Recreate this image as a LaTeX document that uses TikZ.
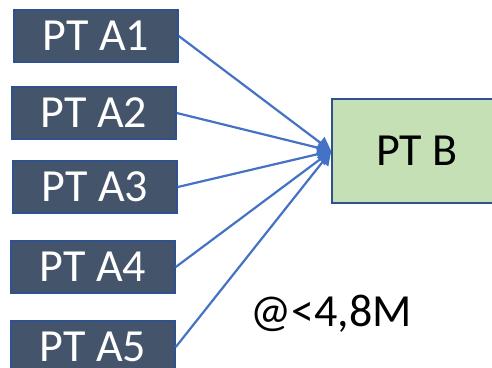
\documentclass[tikz,border=0pt]{standalone}
\usepackage{fontspec}
\setmainfont{Carlito}
\usetikzlibrary{arrows.meta}
\definecolor{slate}{HTML}{44546A}
\definecolor{edgeblue}{HTML}{2F528F}
\definecolor{lineblue}{HTML}{4472C4}
\definecolor{lightgreen}{HTML}{C5E0B4}
\tikzstyle{source} = [rectangle, draw=edgeblue, line width=1.5pt, fill=slate, text=white, minimum width=164pt, minimum height=52pt, inner sep=0pt, font=\fontsize{46}{50}\selectfont]
\tikzstyle{target} = [rectangle, draw=edgeblue, line width=1.5pt, fill=lightgreen, minimum width=170pt, minimum height=104pt, inner sep=0pt, font=\fontsize{46}{50}\selectfont]
\tikzstyle{arrow} = [draw=lineblue, line width=2.2pt, -{Triangle[length=14pt,width=14pt]}]

\begin{document}
\begin{tikzpicture}[x=1pt, y=-1pt]
      \useasboundingbox (0,0) rectangle (492,367);
      \clip (0,0) rectangle (492,367);
      \node [source] at (96,  36) (a1) {PT A1};
      \node [source] at (94, 113) (a2) {PT A2};
      \node [source] at (95, 187) (a3) {PT A3};
      \node [source] at (93, 267) (a4) {PT A4};
      \node [source] at (93, 347) (a5) {PT A5};
      \node [target] at (417, 151) (b) {PT B};
      \coordinate (tip) at (b.west);
      \node [font=\fontsize{46}{50}\selectfont] at (331, 314) (cap) {@<4,8M};
      \path [arrow] (a1.east) -- (tip);
      \path [arrow] (a2.east) -- (tip);
      \path [arrow] (a3.east) -- (tip);
      \path [arrow] (a4.east) -- (tip);
      \path [arrow] (a5.east) -- (tip);
    \end{tikzpicture}
\end{document}
